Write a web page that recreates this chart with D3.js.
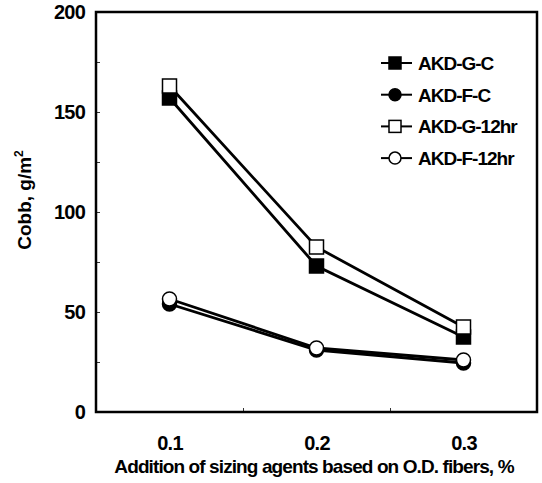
<!DOCTYPE html>
<html>
<head>
<meta charset="utf-8">
<script src="https://cdn.jsdelivr.net/npm/d3@7"></script>
<style>
  body { margin: 0; background: #fff; }
  text { font-family: "Liberation Sans", Arial, sans-serif; font-weight: bold; fill: #000; }
</style>
</head>
<body>
<svg id="chart" width="542" height="483"></svg>
<script>
// addition of sizing agent, % on O.D. fibers
var additions = [0.1, 0.2, 0.3];

// Cobb values, g/m2
var akdGC    = [157, 73, 37.5];
var akdFC    = [54, 31, 24.5];
var akdG12hr = [163, 82.5, 42.5];
var akdF12hr = [56.5, 32, 26];

var seriesNames = ["AKD-G-C", "AKD-F-C", "AKD-G-12hr", "AKD-F-12hr"];
var yTicks = [0, 50, 100, 150, 200];
var xTicks = [0.1, 0.2, 0.3];

var series = [
    {name: seriesNames[0], values: akdGC,    shape: "square", fill: "#000"},
    {name: seriesNames[1], values: akdFC,    shape: "circle", fill: "#000"},
    {name: seriesNames[2], values: akdG12hr, shape: "square", fill: "#fff"},
    {name: seriesNames[3], values: akdF12hr, shape: "circle", fill: "#fff"}
];

var margin = {top: 12, right: 5, bottom: 71, left: 96};
var width = 542, height = 483;

var x = d3.scaleLinear()
    .domain([0.05, 0.35])
    .range([margin.left, width - margin.right]);

var y = d3.scaleLinear()
    .domain([0, 200])
    .range([height - margin.bottom, margin.top]);

var svg = d3.select("#chart");

// frame
svg.append("rect")
    .attr("x", x(0.05))
    .attr("y", y(200))
    .attr("width", x(0.35) - x(0.05))
    .attr("height", y(0) - y(200))
    .attr("fill", "none")
    .attr("stroke", "#000")
    .attr("stroke-width", 2.5);

// small inside ticks
svg.append("g")
    .attr("transform", "translate(0," + y(0) + ")")
    .call(d3.axisTop(x).tickValues([0.15, 0.25]).tickSize(4).tickFormat(""))
    .call(function (g) { g.select(".domain").remove(); })
    .selectAll("line").attr("stroke-width", 0.8);

svg.append("g")
    .attr("transform", "translate(" + x(0.05) + ",0)")
    .call(d3.axisRight(y).tickValues([25, 50, 75, 100, 125, 150, 175]).tickSize(4).tickFormat(""))
    .call(function (g) { g.select(".domain").remove(); })
    .selectAll("line").attr("stroke-width", 0.8);

// tick labels
var yAxis = svg.append("g")
    .attr("transform", "translate(" + (x(0.05) - 11) + ",0)")
    .call(d3.axisLeft(y).tickValues(yTicks).tickSize(0).tickFormat(d3.format("d")));
yAxis.select(".domain").remove();
yAxis.selectAll("text")
    .style("font-size", "20px")
    .style("letter-spacing", "-0.8px")
    .attr("x", 0);

var xAxis = svg.append("g")
    .attr("transform", "translate(0," + (y(0) + 21) + ")")
    .call(d3.axisBottom(x).tickValues(xTicks).tickSize(0).tickFormat(d3.format(".1f")));
xAxis.select(".domain").remove();
xAxis.selectAll("text")
    .style("font-size", "20px")
    .style("letter-spacing", "-0.8px");

// axis titles
svg.append("text")
    .attr("x", 314)
    .attr("y", 473)
    .attr("text-anchor", "middle")
    .style("font-size", "19px")
    .style("letter-spacing", "-0.9px")
    .text("Addition of sizing agents based on O.D. fibers, %");

var yTitle = svg.append("text")
    .attr("transform", "translate(31,200) rotate(-90)")
    .attr("text-anchor", "middle")
    .style("font-size", "19px");
yTitle.append("tspan").text("Cobb, g/m");
yTitle.append("tspan").attr("dy", -8).style("font-size", "12px").text("2");

// lines
var line = d3.line()
    .x(function (d, i) { return x(additions[i]); })
    .y(function (d) { return y(d); });

function drawMarker(g, s, cx, cy, size) {
    var h = size / 2;
    if (s.shape === "square") {
        g.append("rect")
            .attr("x", cx - h).attr("y", cy - h)
            .attr("width", size).attr("height", size)
            .attr("fill", s.fill)
            .attr("stroke", "#000")
            .attr("stroke-width", 1.5);
    } else {
        g.append("circle")
            .attr("cx", cx).attr("cy", cy)
            .attr("r", h)
            .attr("fill", s.fill)
            .attr("stroke", "#000")
            .attr("stroke-width", 1.5);
    }
}

series.forEach(function (s) {
    svg.append("path")
        .datum(s.values)
        .attr("d", line)
        .attr("fill", "none")
        .attr("stroke", "#000")
        .attr("stroke-width", 2.8);
});

series.forEach(function (s) {
    var g = svg.append("g");
    s.values.forEach(function (v, i) {
        drawMarker(g, s, x(additions[i]), y(v), 14);
    });
});

// legend
var legend = svg.append("g");
series.forEach(function (s, i) {
    var ly = 63 + i * 31.7;
    legend.append("line")
        .attr("x1", 381).attr("x2", 412)
        .attr("y1", ly).attr("y2", ly)
        .attr("stroke", "#000")
        .attr("stroke-width", 2);
    drawMarker(legend, s, 395, ly, 12);
    legend.append("text")
        .attr("x", 418)
        .attr("y", ly + 7)
        .style("font-size", "19px")
        .style("letter-spacing", "-1px")
        .text(s.name);
});
</script>
</body>
</html>
